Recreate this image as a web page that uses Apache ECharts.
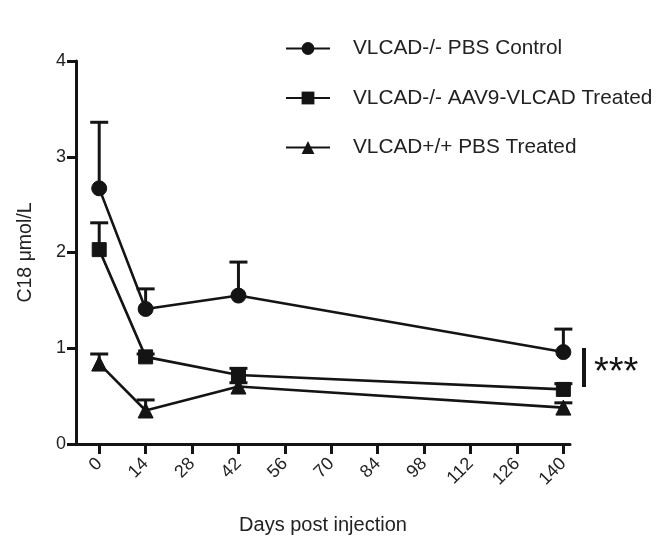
<!DOCTYPE html>
<html>
<head>
<meta charset="utf-8">
<script src="https://cdn.jsdelivr.net/npm/echarts@6/dist/echarts.min.js"></script>
<style>
  html, body { margin: 0; padding: 0; background: #fff; }
  #chart { width: 660px; height: 541px; }
</style>
</head>
<body>
<div id="chart"></div>
<script>
// Sampling days and C18 acylcarnitine levels (mean, with SEM drawn upward)
const days = [0, 14, 42, 140];
const dayTicks = [0, 14, 28, 42, 56, 70, 84, 98, 112, 126, 140];
const yTicks = [0, 1, 2, 3, 4];

const seriesNames = ['VLCAD-/- PBS Control', 'VLCAD-/- AAV9-VLCAD Treated', 'VLCAD+/+ PBS Treated'];
const pbsControl = [2.67, 1.41, 1.55, 0.96];
const pbsControlSem = [0.69, 0.21, 0.35, 0.24];
const aavTreated = [2.03, 0.91, 0.72, 0.57];
const aavTreatedSem = [0.28, 0.03, 0.07, 0.06];
const wildType = [0.84, 0.35, 0.60, 0.38];
const wildTypeSem = [0.10, 0.11, 0.04, 0.05];

const ink = '#141414';
const font = 'Liberation Sans, Arial, sans-serif';
const groups = [
  { name: seriesNames[0], mean: pbsControl, sem: pbsControlSem, symbol: 'circle', size: 15 },
  { name: seriesNames[1], mean: aavTreated, sem: aavTreatedSem, symbol: 'rect', size: 14 },
  { name: seriesNames[2], mean: wildType, sem: wildTypeSem, symbol: 'triangle', size: 15 }
];

// Upper-only error bars with a flat cap
function errorBar(params, api) {
  const base = api.coord([api.value(0), api.value(1)]);
  const top = api.coord([api.value(0), api.value(2)]);
  const half = 9;
  const style = { stroke: ink, lineWidth: 3, fill: null };
  return {
    type: 'group',
    children: [
      { type: 'line', shape: { x1: base[0], y1: base[1], x2: top[0], y2: top[1] }, style },
      { type: 'line', shape: { x1: top[0] - half, y1: top[1], x2: top[0] + half, y2: top[1] }, style }
    ]
  };
}

const series = [];
groups.forEach(g => {
  series.push({
    type: 'custom',
    name: g.name + ' SEM',
    renderItem: errorBar,
    data: days.map((d, i) => [d, g.mean[i], g.mean[i] + g.sem[i]]),
    z: 1,
    silent: true
  });
  series.push({
    type: 'line',
    name: g.name,
    data: days.map((d, i) => [d, g.mean[i]]),
    symbol: g.symbol,
    symbolSize: g.size,
    showAllSymbol: true,
    lineStyle: { color: ink, width: 2.6 },
    itemStyle: { color: ink, borderColor: ink },
    z: 2
  });
});

const chart = echarts.init(document.getElementById('chart'), null, { renderer: 'canvas' });
chart.setOption({
  backgroundColor: '#ffffff',
  animation: false,
  textStyle: { fontFamily: font, color: '#222' },
  grid: { left: 76, right: 90, top: 61, bottom: 97 },
  legend: {
    data: seriesNames,
    orient: 'vertical',
    left: 285,
    top: 38,
    padding: 0,
    itemWidth: 44,
    itemHeight: 16,
    itemGap: 28.5,
    textStyle: { fontSize: 20.8, color: '#222', padding: [0, 0, 0, 18] }
  },
  xAxis: {
    type: 'value',
    min: -7,
    max: 142,
    name: 'Days post injection',
    nameLocation: 'middle',
    nameGap: 71,
    nameTextStyle: { fontSize: 20, color: '#222' },
    splitLine: { show: false },
    axisLine: { onZero: false, lineStyle: { color: ink, width: 3 } },
    axisTick: { show: true, customValues: dayTicks, length: 10, lineStyle: { color: ink, width: 3 } },
    axisLabel: { customValues: dayTicks, rotate: 45, fontSize: 18, color: '#222', margin: 17 }
  },
  yAxis: {
    type: 'value',
    min: 0,
    max: 4,
    interval: 1,
    name: 'C18 μmol/L',
    nameLocation: 'middle',
    nameGap: 40,
    nameTextStyle: { fontSize: 19.5, color: '#222' },
    splitLine: { show: false },
    axisLine: { show: true, onZero: false, lineStyle: { color: ink, width: 3 } },
    axisTick: { show: true, customValues: yTicks, length: 9, lineStyle: { color: ink, width: 3 } },
    axisLabel: { customValues: yTicks, fontSize: 18, color: '#222', margin: 10 }
  },
  graphic: [
    { type: 'rect', shape: { x: 582, y: 348, width: 4, height: 39 }, style: { fill: ink } },
    { type: 'text', x: 594, y: 355, style: { text: '***', fontSize: 38, fill: ink, fontFamily: font } }
  ],
  series
});
</script>
</body>
</html>
